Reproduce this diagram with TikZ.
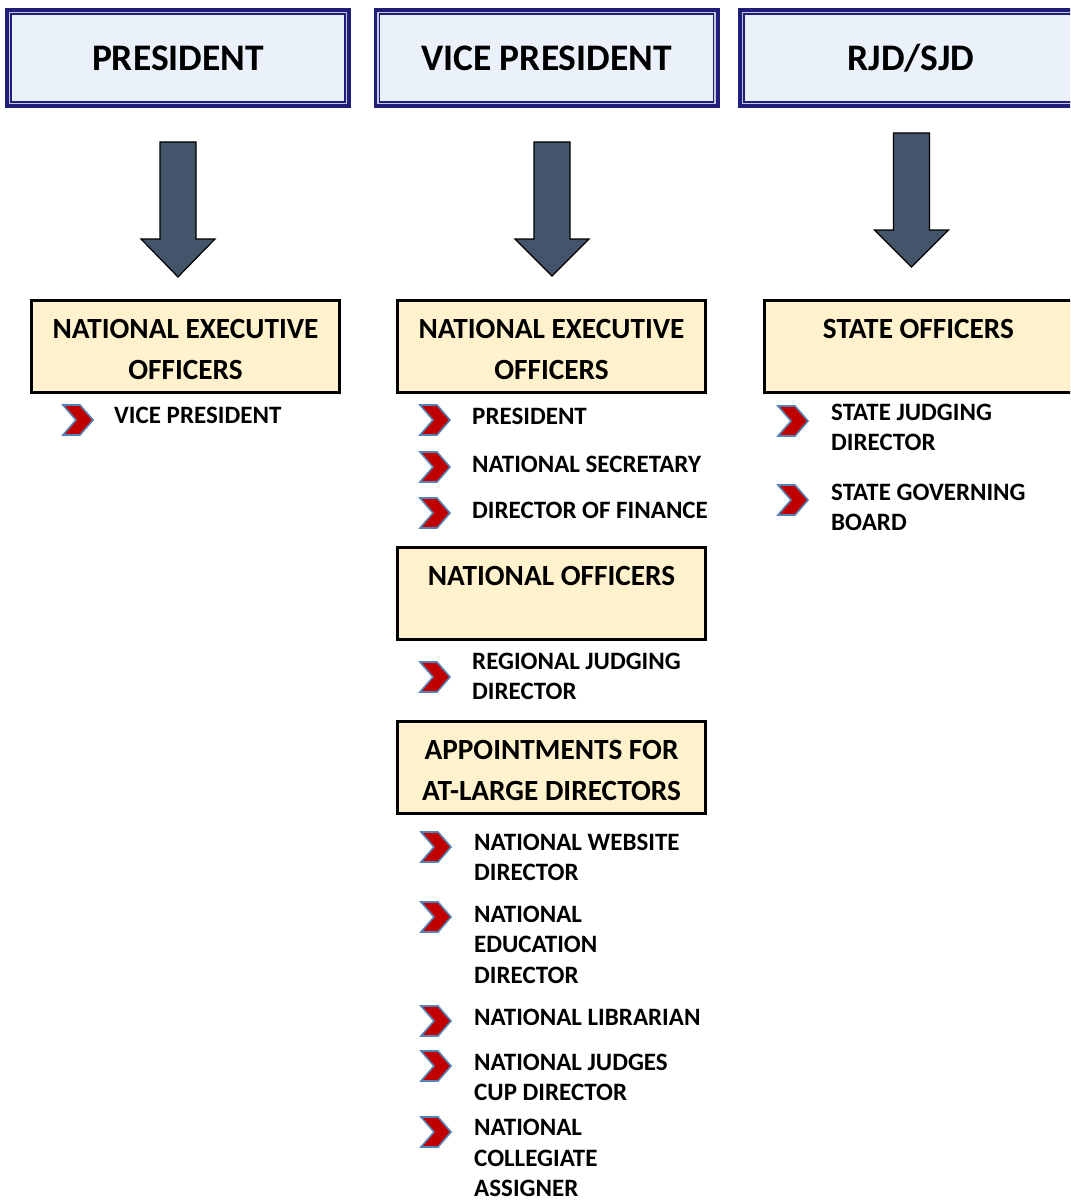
\documentclass[tikz,border=0pt]{standalone}
\usepackage{fontspec}
\setmainfont{Carlito}
\usetikzlibrary{calc}
\definecolor{hdrline}{RGB}{31,31,122}
\definecolor{hdrfill}{RGB}{234,241,250}
\definecolor{ofcfill}{RGB}{255,242,204}
\definecolor{arrowfill}{RGB}{68,84,106}
\definecolor{chevred}{RGB}{192,0,0}
\definecolor{chevedge}{RGB}{84,130,180}
\tikzset{hdr/.style={draw=hdrline,line width=6.5pt,fill=hdrfill,minimum width=339.5pt,minimum height=93.5pt,font=\fontsize{37.5}{44}\selectfont\bfseries},
 ofc/.style={draw=black,line width=3pt,fill=ofcfill,minimum width=308pt,minimum height=92pt,align=center,font=\fontsize{29.3}{41}\selectfont\bfseries},
 itm/.style={anchor=base west,align=left,inner sep=0pt,font=\fontsize{25}{30.5}\selectfont\bfseries},
 chev/.style={draw=chevedge,line width=1.6pt,fill=chevred},
 blk/.style={draw=black,line width=1.2pt,fill=arrowfill}}
\newcommand\topstrut{\rule{0pt}{25pt}}
\begin{document}
\begin{tikzpicture}[x=1pt,y=-1pt]
\useasboundingbox (0,0) rectangle (1070,1201);
\clip (0,0) rectangle (1070,1201);
% top row
\node[hdr](pres) at(178,58){PRESIDENT};
\node[hdr](vp) at(546.5,58){VICE PRESIDENT};
\node[hdr](rjd) at(911,58){RJD/SJD};
\foreach \h in {pres,vp,rjd}{
 \draw[hdrline!25,line width=1.6pt]($(\h.north west)+(4.4,4.4)$) rectangle ($(\h.south east)+(-4.4,-4.4)$);
 \draw[hdrline,line width=1.3pt]($(\h.north west)+(6.25,6.25)$) rectangle ($(\h.south east)+(-6.25,-6.25)$);}
% big arrows
\foreach \cx/\ya/\yb/\yc in {178/142/239/277,552/142/239/276,911.5/133/230/267}
 \draw[blk](\cx-18,\ya)--(\cx+18,\ya)--(\cx+18,\yb)--(\cx+37,\yb)--(\cx,\yc)--(\cx-37,\yb)--(\cx-18,\yb)--cycle;
% office boxes
\node[ofc](neo1) at(185.5,346.5){\topstrut NATIONAL EXECUTIVE\\OFFICERS};
\node[ofc](neo2) at(551.5,346.5){\topstrut NATIONAL EXECUTIVE\\OFFICERS};
\node[ofc](sto) at(918.5,346.5){\topstrut STATE OFFICERS\\\phantom{X}};
\node[ofc](nat) at(551.5,593){\topstrut NATIONAL OFFICERS\\\phantom{X}};
\node[ofc](apt) at(551.5,767.5){\topstrut APPOINTMENTS FOR\\AT-LARGE DIRECTORS};
% bullet lists (text placed at its last baseline)
\foreach \nm/\bx/\by/\tx/\ty/\txt in {
 l1/63/420/114/423/{VICE PRESIDENT},
 m1/420/420/472/424/{PRESIDENT},
 m2/420/467/472/472/{NATIONAL SECRETARY},
 m3/420/513/472/518/{DIRECTOR OF FINANCE},
 m4/420/677/472/699.5/{REGIONAL JUDGING\\DIRECTOR},
 m5/421/847/474/880.5/{NATIONAL WEBSITE\\DIRECTOR},
 m6/421/917/474/983/{NATIONAL\\EDUCATION\\DIRECTOR},
 m7/421/1021/474/1025/{NATIONAL LIBRARIAN},
 m8/421/1066/474/1100.5/{NATIONAL JUDGES\\CUP DIRECTOR},
 m9/421/1132/474/1196.5/{NATIONAL\\COLLEGIATE\\ASSIGNER},
 r1/778/421/831/450.5/{STATE JUDGING\\DIRECTOR},
 r2/778/500/831/530.5/{STATE GOVERNING\\BOARD}}{
 \draw[chev](\bx,\by-15)--++(17,0)--++(13,15)--++(-13,15)--++(-17,0)--++(13,-15)--cycle;
 \node[itm](\nm) at(\tx,\ty){\txt};
}
\end{tikzpicture}
\end{document}
